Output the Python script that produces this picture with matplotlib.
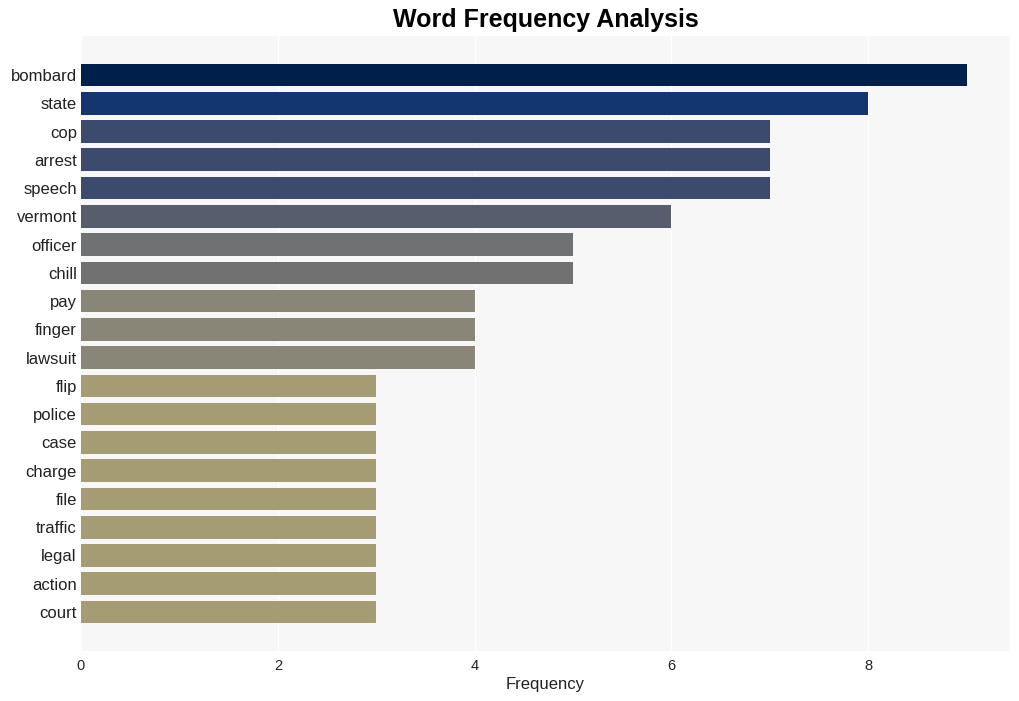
import matplotlib
matplotlib.use("Agg")
import matplotlib.pyplot as plt

words = ["bombard", "state", "cop", "arrest", "speech", "vermont", "officer", "chill",
         "pay", "finger", "lawsuit", "flip", "police", "case", "charge", "file",
         "traffic", "legal", "action", "court"]
counts = [9, 8, 7, 7, 7, 6, 5, 5, 4, 4, 4, 3, 3, 3, 3, 3, 3, 3, 3, 3]
colors = ["#00204C", "#133570", "#3C4A6E", "#3C4A6E", "#3C4A6E", "#575D6D",
          "#707173", "#707173", "#8A8677", "#8A8677", "#8A8677"] + ["#A59C74"] * 9
xticks = [0, 2, 4, 6, 8]

plt.rcParams['font.family'] = ['Liberation Sans', 'DejaVu Sans']
fig = plt.figure(figsize=(10.2, 7.01), dpi=100)
ax = fig.add_axes([81/1020, 1-651/701, (1010-81)/1020, (651-36)/701])
ax.set_facecolor("#F7F7F7")
ypos = list(range(len(words)))
ax.barh(ypos, counts, height=0.8, color=colors, zorder=2)
ax.set_yticks(ypos)
ax.set_yticklabels(words, fontsize=12, color="#222222")
ax.set_xticks(xticks)
ax.set_xticklabels([str(t) for t in xticks], fontsize=10.5, color="#222222")
ax.set_xlim(0, 9.44)
ax.set_ylim(len(words) - 1 + 1.38, -1.38)
ax.grid(axis='x', color='white', linewidth=1, zorder=1)
ax.tick_params(axis='y', length=0, pad=3)
ax.tick_params(axis='x', length=0, pad=6)
for s in ax.spines.values():
    s.set_visible(False)
ax.set_xlabel("Frequency", fontsize=12, color="#222222", labelpad=3)
fig.suptitle("Word Frequency Analysis", fontsize=18, fontweight='bold', y=0.988, x=0.535)
fig.savefig("out.png", dpi=100)
